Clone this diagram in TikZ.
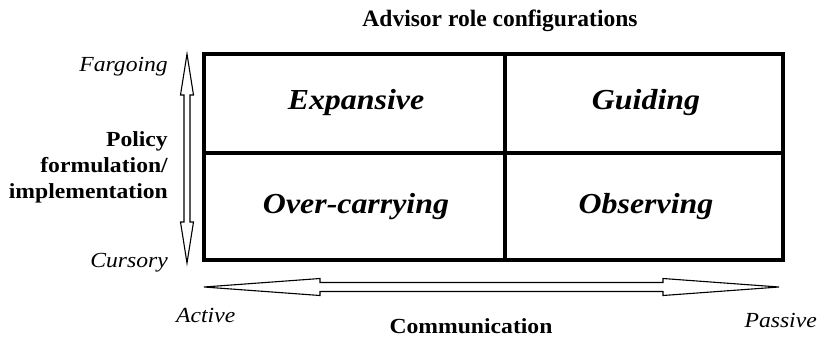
\documentclass[tikz,border=0pt]{standalone}
\usepackage{fontspec}
\setmainfont{Liberation Serif}
\newfontfamily\widefont[FakeStretch=1.1]{Liberation Serif}

% hollow arrow with a head at both ends, lying along x from the origin
% #1 length, #2 head length, #3 half head width, #4 half shaft width
\newcommand{\axisarrow}[4]{%
	\draw[axis arrow] (0,0) -- (#2,#3) -- (#2,#4) -- (#1-#2,#4) -- (#1-#2,#3)
		-- (#1,0) -- (#1-#2,-#3) -- (#1-#2,-#4) -- (#2,-#4) -- (#2,-#3) -- cycle;
}

\tikzset{
	frame/.style={line width=4bp},
	axis arrow/.style={draw, line width=1.1bp, fill=white, line join=miter},
	cell/.style={font=\widefont\fontsize{29bp}{32bp}\selectfont\bfseries\itshape, inner sep=0pt},
	side/.style={font=\widefont\fontsize{21.5bp}{26bp}\selectfont\itshape, inner sep=0pt},
	axislabel/.style={font=\widefont\fontsize{21.5bp}{26bp}\selectfont\bfseries, inner sep=0pt},
}

\begin{document}
\begin{tikzpicture}[x=1bp, y=-1bp]
	\useasboundingbox (0,0) rectangle (821,336);
	%
	\node[font=\fontsize{23.5bp}{26bp}\selectfont\bfseries, anchor=base] (title) at (500,26) {Advisor role configurations};
	% the four quadrants
	\draw[frame] (204,54) rectangle (783,260);
	\draw[frame] (505,54) -- (505,260);
	\draw[frame] (204,153) -- (783,153);
	\def\cells {exp/356/103/Expansive, gui/646/103/Guiding, ovc/356/207/Over-carrying, obs/646/207/Observing};
	\foreach \name\x\y\lbl in \cells{
		\node[cell] (\name) at (\x,\y) {\lbl};
	}
	% vertical axis
	\begin{scope}[shift={(187,263)}, rotate=90]
		\axisarrow{209}{41}{6.5}{3}
	\end{scope}
	\node[side, anchor=base east] (fargo) at (168,71) {Fargoing};
	\node[side, anchor=base east] (cursory) at (168,267) {Cursory};
	\node[axislabel, anchor=east, align=right] (policy) at (168,167) {Policy\\formulation/\\implementation};
	% horizontal axis
	\begin{scope}[shift={(204,287)}]
		\axisarrow{575}{116}{8.5}{4.5}
	\end{scope}
	\node[side, anchor=base west] (active) at (176,322) {Active};
	\node[side, anchor=base east] (passive) at (817,327) {Passive};
	\node[axislabel, anchor=base] (comm) at (471,333) {Communication};
\end{tikzpicture}
\end{document}
